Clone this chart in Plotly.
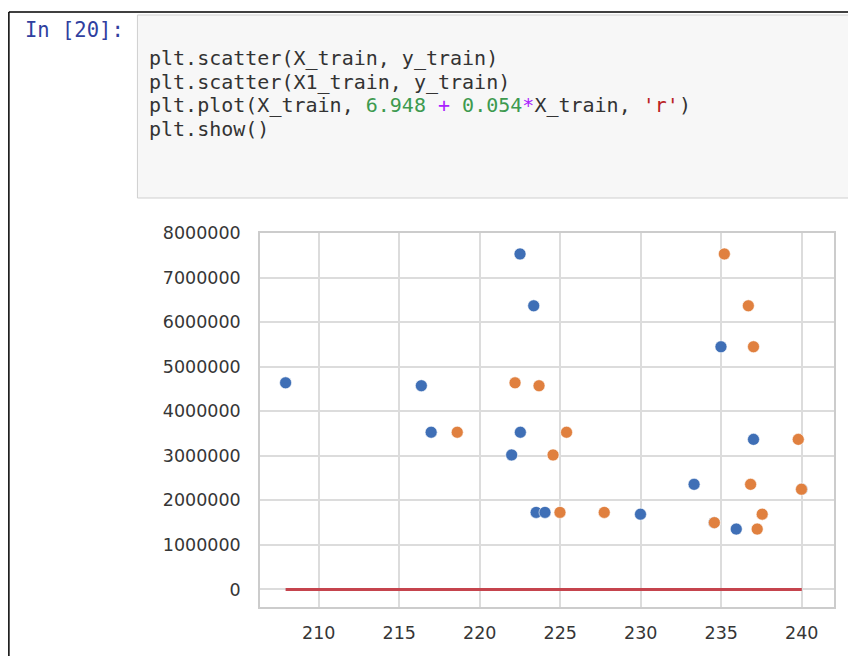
import plotly.graph_objects as go

# ---- data ----
y_train = [7535000, 6370000, 5450000, 4640000, 4575000, 3530000, 3530000, 3370000,
           3020000, 2360000, 2250000, 1730000, 1730000, 1690000, 1500000, 1355000]
X_train = [222.50, 223.35, 234.98, 207.94, 216.37, 216.98, 222.52, 237.00,
           221.98, 233.31, 240.00, 223.50, 224.05, 229.98, 234.55, 235.93]
X1_train = [235.19, 236.68, 237.00, 222.19, 223.68, 218.60, 225.39, 239.78,
            224.55, 236.82, 239.98, 224.98, 227.73, 237.54, 234.57, 237.23]
intercept = 6.948
slope = 0.054

x_tick_vals = [210, 215, 220, 225, 230, 235, 240]
x_tick_text = ["210", "215", "220", "225", "230", "235", "240"]
y_tick_vals = [0, 1000000, 2000000, 3000000, 4000000, 5000000, 6000000, 7000000, 8000000]
y_tick_text = ["0", "1000000", "2000000", "3000000", "4000000", "5000000",
               "6000000", "7000000", "8000000"]

prompt_text = "In [20]:"
code_lines = [
    "plt.scatter(X_train, y_train)",
    "plt.scatter(X1_train, y_train)",
    "plt.plot(X_train, <span style='color:#3d9a4f'>6.948</span> "
    "<span style='color:#aa22ff'>+</span> <span style='color:#3d9a4f'>0.054</span>"
    "<span style='color:#aa22ff'>*</span>X_train, <span style='color:#ba2121'>'r'</span>)",
    "plt.show()",
]

# ---- layout geometry (pixels) ----
W, H = 848, 656
L, R, T, B = 260, 836, 233, 607


def px_x(px):
    return (px - L) / (R - L)


def px_y(py):
    return (B - py) / (B - T)


line_y = [intercept + slope * v for v in X_train]

fig = go.Figure()
fig.add_trace(go.Scatter(
    x=X_train, y=y_train, mode="markers",
    marker=dict(color="#3f6fb6", size=12, line=dict(color="white", width=0.6)),
    showlegend=False, hoverinfo="skip"))
fig.add_trace(go.Scatter(
    x=X1_train, y=y_train, mode="markers",
    marker=dict(color="#e0803f", size=12, line=dict(color="white", width=0.6)),
    showlegend=False, hoverinfo="skip"))
fig.add_trace(go.Scatter(
    x=X_train, y=line_y, mode="lines",
    line=dict(color="#c5444d", width=3),
    showlegend=False, hoverinfo="skip"))

shapes = [
    # code cell box
    dict(type="rect", xref="paper", yref="paper",
         x0=px_x(137), x1=px_x(860), y0=px_y(198), y1=px_y(15),
         fillcolor="#f7f7f7", line=dict(color="#cfcfcf", width=1), layer="below"),
    # outer frame: top and left edges
    dict(type="line", xref="paper", yref="paper",
         x0=px_x(8), x1=px_x(860), y0=px_y(12), y1=px_y(12),
         line=dict(color="black", width=1.5)),
    dict(type="line", xref="paper", yref="paper",
         x0=px_x(8), x1=px_x(8), y0=px_y(12), y1=px_y(670),
         line=dict(color="black", width=1.5)),
]

annotations = [
    dict(text=prompt_text, xref="paper", yref="paper", x=px_x(22), y=px_y(30),
         xanchor="left", yanchor="middle", showarrow=False,
         font=dict(family="DejaVu Sans Mono", size=20.5, color="#303f9f")),
]
code_y = [58, 81.5, 105, 128.5]
for txt, yy in zip(code_lines, code_y):
    annotations.append(dict(
        text=txt, xref="paper", yref="paper", x=px_x(147), y=px_y(yy),
        xanchor="left", yanchor="middle", showarrow=False,
        font=dict(family="DejaVu Sans Mono", size=20, color="#333333")))

fig.update_layout(
    width=W, height=H, autosize=False,
    margin=dict(l=L, r=W - R, t=T, b=H - B, pad=0),
    paper_bgcolor="white", plot_bgcolor="white",
    shapes=shapes, annotations=annotations,
    xaxis=dict(range=[206.35, 242.0], tickvals=x_tick_vals, ticktext=x_tick_text,
               showgrid=True, gridcolor="#dcdcdc", gridwidth=1.5, zeroline=False,
               showline=True, mirror=True, linecolor="#cccccc", linewidth=1.5,
               ticks="outside", ticklen=9, tickcolor="rgba(0,0,0,0)",
               tickfont=dict(family="DejaVu Sans", size=17.5, color="#363636")),
    yaxis=dict(range=[-395000, 8005000], tickvals=y_tick_vals, ticktext=y_tick_text,
               showgrid=True, gridcolor="#dcdcdc", gridwidth=1.5, zeroline=False,
               showline=True, mirror=True, linecolor="#cccccc", linewidth=1.5,
               ticks="outside", ticklen=14, tickcolor="rgba(0,0,0,0)",
               tickfont=dict(family="DejaVu Sans", size=17.5, color="#363636")),
)

fig.write_html("out.html",
               config={"displayModeBar": False},
               post_script="document.body.style.margin='0px';"
                           "document.body.style.padding='0px';")
